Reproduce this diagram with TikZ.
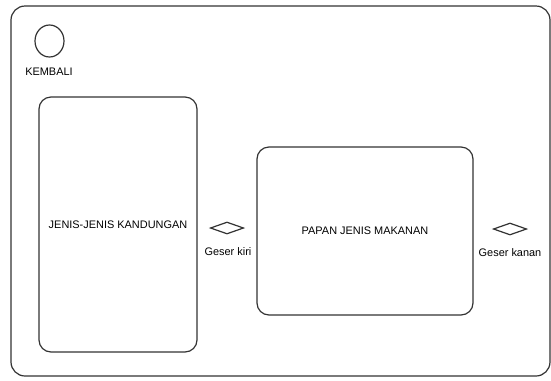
\documentclass[tikz,border=0pt]{standalone}
\usepackage{fontspec}
\setmainfont{Liberation Sans}
\usetikzlibrary{shapes.geometric}
\definecolor{edge}{HTML}{333333}
\begin{document}
\begin{tikzpicture}[x=0.75pt,y=-0.75pt,
  every node/.style={font=\fontsize{8.2pt}{9pt}\selectfont, text=black},
  frame/.style={draw=edge, line width=0.9pt, rounded corners=10.5pt, rectangle},
  panel/.style={draw=edge, line width=0.9pt, rounded corners=9pt, rectangle, align=center},
  button/.style={draw=edge, line width=0.9pt, ellipse, inner sep=0pt},
  arrowbtn/.style={draw=edge, line width=0.9pt, diamond, inner sep=0pt, minimum width=25pt, minimum height=9pt},
  caption/.style={inner sep=0pt}]
  \useasboundingbox (0,0) rectangle (551,380);
  % outer screen
  \node[frame, minimum width=404.25pt, minimum height=277.5pt] (screen) at (280.5,191) {};
  % back button
  \node[button, minimum width=21.75pt, minimum height=24pt] (kembali) at (49.5,41) {};
  \node[caption] (kembalilbl) at (49,72) {KEMBALI};
  % category panel
  \node[panel, minimum width=118.5pt, minimum height=191.25pt] (jenis) at (118,224.5) {JENIS-JENIS KANDUNGAN};
  % food board
  \node[panel, minimum width=162pt, minimum height=126pt] (papan) at (365,231) {PAPAN JENIS MAKANAN};
  % swipe controls
  \node[arrowbtn] (kiri) at (227,228) {};
  \node[caption] (kirilbl) at (228,252) {Geser kiri};
  \node[arrowbtn] (kanan) at (510,229) {};
  \node[caption] (kananlbl) at (510,253) {Geser kanan};
\end{tikzpicture}
\end{document}
